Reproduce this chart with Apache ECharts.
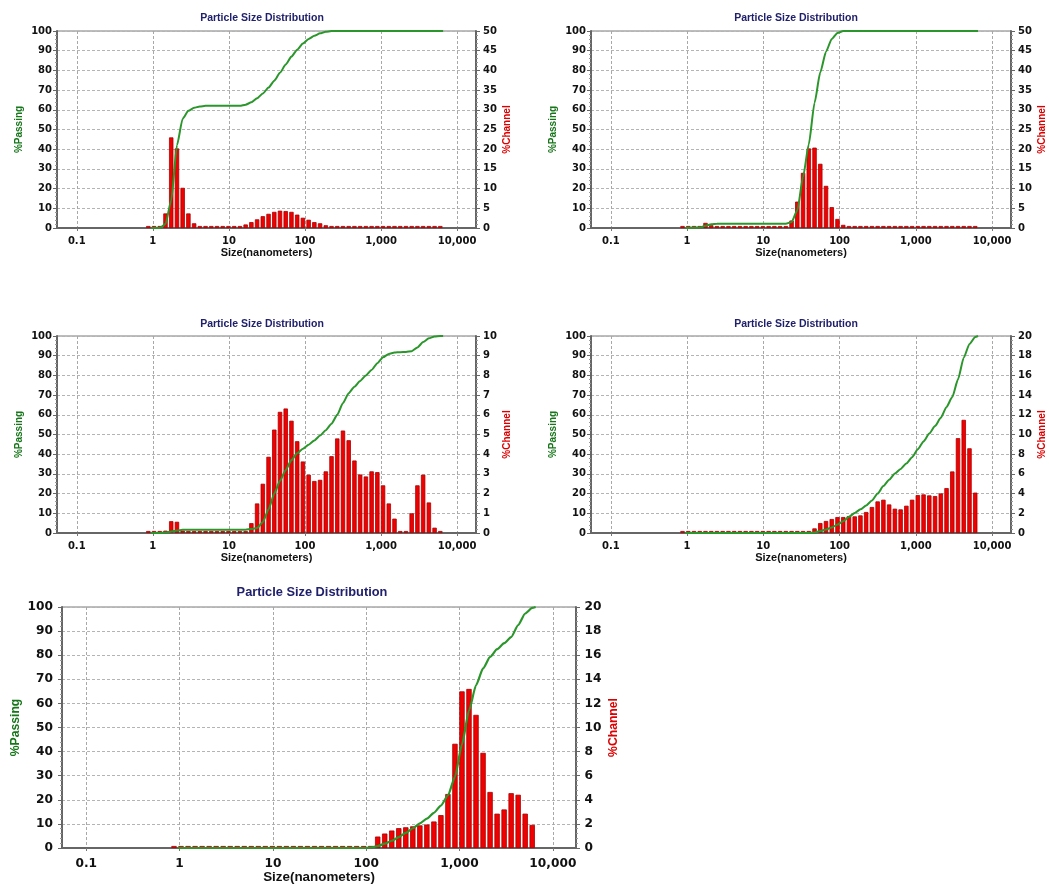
<!DOCTYPE html>
<html><head><meta charset="utf-8">
<script src="https://cdn.jsdelivr.net/npm/echarts@6/dist/echarts.min.js"></script>
<style>html,body{margin:0;padding:0;background:#fff}#c{width:1049px;height:884px}</style>
</head><body><div id="c"></div>
<script>
// Channel (bin) centre sizes in nanometres
const BIN_SIZES = [0.872, 1.037, 1.233, 1.467, 1.745, 2.075, 2.467, 2.934, 3.489, 4.149, 4.934, 5.868, 6.979, 8.299, 9.869, 11.74, 13.96, 16.60, 19.74, 23.47, 27.91, 33.20, 39.48, 46.95, 55.83, 66.39, 78.96, 93.90, 111.7, 132.8, 157.9, 187.8, 223.3, 265.6, 315.8, 375.6, 446.7, 531.2, 631.7, 751.2, 893.3, 1062, 1263, 1502, 1787, 2125, 2527, 3005, 3573, 4249, 5053, 6009];

// %Channel values (one per bin) for each of the five charts
const CH_1 = [0,0,0,3.7,23.0,20.2,10.2,3.7,1.2, 0,0,0,0,0,0,0,0, 0.9,1.5,2.2,3.0,3.6,4.1,4.4,4.3,4.1,3.4,2.6,2.1,1.5,1.2,0.7, 0,0,0,0,0,0,0,0,0,0,0,0,0,0,0,0,0,0,0,0];
const CH_2 = [0,0,0,0,1.3,0.7, 0,0,0,0,0,0,0,0,0,0,0,0,0, 1.9,6.7,14.0,20.2,20.4,16.3,10.7,5.3,2.3,0.8, 0,0,0,0,0,0,0,0,0,0,0,0,0,0,0,0,0,0,0,0,0,0,0];
const CH_3 = [0,0,0,0.12,0.6,0.57,0.12, 0,0,0,0,0,0,0,0,0,0,0, 0.5,1.5,2.5,3.87,5.25,6.15,6.32,5.7,4.66,3.63,2.96,2.64,2.7,3.13,3.9,4.8,5.2,4.71,3.68,2.97,2.87,3.13,3.09,2.42,1.5,0.73, 0, 0.1,1.0,2.42,2.96,1.55,0.27, 0];
const CH_4 = [0,0,0,0,0,0,0,0,0,0,0,0,0,0,0,0,0,0,0,0,0,0,0, 0.47,1.01,1.22,1.42,1.62,1.62,1.72,1.69,1.79,2.13,2.64,3.21,3.38,2.9,2.47,2.4,2.77,3.38,3.85,3.92,3.82,3.75,4.02,4.56,6.25,9.63,11.49,8.6,4.1];
const CH_5 = [0,0,0,0,0,0,0,0,0,0,0,0,0,0,0,0,0,0,0,0,0,0,0,0,0,0,0,0, 0.17,0.95,1.2,1.45,1.65,1.72,1.8,1.88,1.95,2.2,2.73,4.48,8.65,13.0,13.2,11.05,7.9,4.65,2.85,3.2,4.55,4.42,2.85,1.92];

// %Passing curves: [size nm, %]
const PASS_1 = [[0.951,0],[1.233,0],[1.467,2],[1.745,14],[2.075,42],[2.467,55.5],[2.934,59.5],[3.489,61],[4.149,61.7],[4.934,62],[13.96,62],[16.6,62.6],[19.74,63.8],[23.47,65.8],[27.91,68.3],[33.2,71.3],[39.48,74.8],[46.95,78.8],[55.83,83],[66.39,87],[78.96,90.5],[93.9,93.6],[111.7,96],[132.8,97.6],[157.9,98.8],[187.8,99.6],[223.3,100],[6540,100]];
const PASS_2 = [[0.951,0],[1.467,0.2],[1.745,1.2],[2.075,1.9],[2.467,2.1],[19.74,2.2],[23.47,3],[27.91,9],[33.2,26],[39.48,42.5],[46.95,63.5],[55.83,79],[66.39,89.5],[78.96,96],[93.9,99],[111.7,100],[6540,100]];
const PASS_3 = [[0.951,0],[1.233,0],[1.467,0.2],[1.745,0.8],[2.075,1.3],[2.467,1.6],[2.934,1.7],[16.6,1.7],[19.74,2],[23.47,2.6],[27.91,5.5],[33.2,12],[39.48,20],[46.95,26.5],[55.83,32],[66.39,37],[78.96,40.5],[93.9,42.8],[111.7,44.8],[132.8,47],[157.9,49.5],[187.8,52.2],[223.3,55.5],[265.6,60],[315.8,66],[375.6,71],[446.7,74.3],[531.2,77.2],[631.7,80],[751.2,82.8],[893.3,86.2],[1062,89.2],[1263,90.9],[1502,91.6],[1787,91.8],[2125,91.9],[2527,92.3],[3005,94.2],[3573,96.9],[4249,98.8],[5053,99.8],[6009,100],[6540,100]];
const PASS_4 = [[0.951,0],[39.48,0],[46.95,0.3],[55.83,1],[66.39,1.8],[78.96,2.8],[93.9,4.3],[111.7,6],[132.8,8.2],[157.9,10.2],[187.8,12],[223.3,14],[265.6,16.5],[315.8,20],[375.6,23.8],[446.7,27],[531.2,30.2],[631.7,32.5],[751.2,35.3],[893.3,38.5],[1062,42.5],[1263,46.5],[1502,50.5],[1787,54.3],[2125,58.5],[2527,64],[3005,69],[3573,78],[4249,89],[5053,96],[6009,99.5],[6540,100]];
const PASS_5 = [[0.951,0],[93.9,0],[111.7,0.2],[132.8,0.8],[157.9,1.8],[187.8,3],[223.3,4.5],[265.6,6.3],[315.8,8.2],[375.6,10.2],[446.7,12.2],[531.2,14.6],[631.7,17.6],[751.2,21.8],[893.3,29.5],[1062,43],[1263,57],[1502,67.5],[1787,74.5],[2125,79.3],[2527,82.5],[3005,85],[3573,87.5],[4249,92.5],[5053,97.3],[6009,99.6],[6540,100]];

// Axis tick labels
const X_TICK_POWERS = [-1, 0, 1, 2, 3, 4];
const X_TICK_LABELS = ['0.1', '1', '10', '100', '1,000', '10,000'];
const X_MIN_NM = 0.055, X_MAX_NM = 17700;
const RIGHT_MAX = [50, 50, 10, 20, 20];
const RIGHT_INTERVAL = [5, 5, 1, 2, 2];

const TITLE = 'Particle Size Distribution';
const X_NAME = 'Size(nanometers)';
const Y_LEFT_NAME = '%Passing';
const Y_RIGHT_NAME = '%Channel';

const CHANNELS = [CH_1, CH_2, CH_3, CH_4, CH_5];
const PASSING = [PASS_1, PASS_2, PASS_3, PASS_4, PASS_5];

// layout (px)
const LAYOUT = [
  {left: 57, top: 31, width: 419, height: 197, tx: 262, ty: 18, s: 1},
  {left: 591, top: 31, width: 420, height: 197, tx: 796, ty: 18, s: 1},
  {left: 57, top: 336, width: 419, height: 197, tx: 262, ty: 324, s: 1},
  {left: 591, top: 336, width: 420, height: 197, tx: 796, ty: 324, s: 1},
  {left: 62, top: 607, width: 514, height: 241, tx: 312, ty: 592, s: 1.22}
];

const LBL_FONT = "'DejaVu Sans', Verdana, sans-serif";
const TXT_FONT = "'Liberation Sans', Arial, sans-serif";

function xLabel(v) {
  const k = Math.round(v);
  if (Math.abs(v - k) > 1e-6) return '';
  const idx = X_TICK_POWERS.indexOf(k);
  return idx >= 0 ? X_TICK_LABELS[idx] : '';
}

const grid = [], xAxis = [], yAxis = [], series = [], graphic = [];
LAYOUT.forEach((L, i) => {
  const s = L.s;
  grid.push({left: L.left, top: L.top, width: L.width, height: L.height, show: true,
    borderColor: '#7a7a7a', borderWidth: 1, backgroundColor: '#fff', containLabel: false, outerBoundsMode: 'none'});
  xAxis.push({
    type: 'value', gridIndex: i, min: Math.log10(X_MIN_NM), max: Math.log10(X_MAX_NM), splitNumber: 5,
    axisLine: {show: true, onZero: false, lineStyle: {color: '#666', width: 2}},
    axisTick: {show: true, length: 3, lineStyle: {color: '#777'}},
    axisLabel: {formatter: xLabel, showMinLabel: false, showMaxLabel: false, margin: 8 * s,
      fontFamily: LBL_FONT, fontWeight: 'bold', fontSize: 10 * s, color: '#111'},
    splitLine: {show: true, lineStyle: {color: '#a8a8a8', width: 1, type: [3, 2]}},
    name: X_NAME, nameLocation: 'middle', nameGap: 19 * s, nameMoveOverlap: false,
    nameTextStyle: {fontFamily: TXT_FONT, fontWeight: 'bold', fontSize: 11 * s, color: '#111'}
  });
  yAxis.push({
    type: 'value', gridIndex: i, position: 'left', min: 0, max: 100, interval: 10,
    axisLine: {show: true, onZero: false, lineStyle: {color: '#666', width: 2}},
    axisTick: {show: true, length: 4, lineStyle: {color: '#666'}},
    minorTick: {show: true, splitNumber: 5, length: 2, lineStyle: {color: '#999'}},
    axisLabel: {margin: (i === 4 ? 9 : 5), fontFamily: LBL_FONT, fontWeight: 'bold', fontSize: 10 * s, color: '#111'},
    splitLine: {show: true, lineStyle: {color: '#b4b4b4', width: 1, type: [3, 2]}},
    name: Y_LEFT_NAME, nameLocation: 'middle', nameRotate: 90, nameGap: 33 * s, nameMoveOverlap: false,
    nameTextStyle: {fontFamily: TXT_FONT, fontWeight: 'bold', fontSize: 10 * s, color: '#17751a'}
  });
  yAxis.push({
    type: 'value', gridIndex: i, position: 'right', min: 0, max: RIGHT_MAX[i], interval: RIGHT_INTERVAL[i],
    axisLine: {show: true, onZero: false, lineStyle: {color: '#666', width: 2}},
    axisTick: {show: true, length: 4, lineStyle: {color: '#666'}},
    minorTick: {show: true, splitNumber: 5, length: 2, lineStyle: {color: '#999'}},
    axisLabel: {margin: 7 * s, fontFamily: LBL_FONT, fontWeight: 'bold', fontSize: 10 * s, color: '#111'},
    splitLine: {show: false},
    name: Y_RIGHT_NAME, nameLocation: 'middle', nameRotate: 90, nameGap: 26 * s, nameMoveOverlap: false,
    nameTextStyle: {fontFamily: TXT_FONT, fontWeight: 'bold', fontSize: 10 * s, color: '#dd0000'}
  });
  series.push({
    type: 'bar', xAxisIndex: i, yAxisIndex: 2 * i + 1, barWidth: 4.4 * s, barMinHeight: 2, silent: true,
    itemStyle: {color: '#f00000', borderColor: '#a80000', borderWidth: 0.8},
    data: BIN_SIZES.map((sz, k) => [Math.log10(sz), CHANNELS[i][k]]), z: 3
  });
  series.push({
    type: 'line', xAxisIndex: i, yAxisIndex: 2 * i, showSymbol: false, silent: true, smooth: 0.2, smoothMonotone: 'x',
    lineStyle: {color: '#2b962b', width: 2 * (s > 1 ? 1.1 : 1)},
    data: PASSING[i].map(p => [Math.log10(p[0]), p[1]]), z: 5
  });
  graphic.push({type: 'text', x: L.tx, y: L.ty, silent: true,
    style: {text: TITLE, align: 'center', verticalAlign: 'middle',
      font: 'bold ' + (10.5 * s).toFixed(1) + 'px ' + TXT_FONT, fill: '#20206c'}});
});

const chart = echarts.init(document.getElementById('c'), null, {renderer: 'canvas'});
chart.setOption({animation: false, backgroundColor: '#fff', grid, xAxis, yAxis, series, graphic});
</script></body></html>
